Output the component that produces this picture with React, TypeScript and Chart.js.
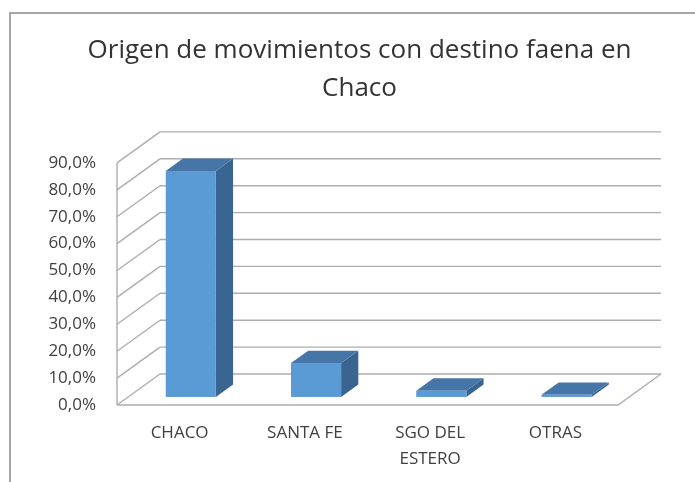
import { useEffect, useRef } from 'react';
import { Chart, registerables } from 'chart.js';

Chart.register(...registerables);

const chartTitle = ['Origen de movimientos con destino faena en', 'Chaco'];
const categories: (string | string[])[] = ['CHACO', 'SANTA FE', ['SGO DEL', 'ESTERO'], 'OTRAS'];
const shares = [0.84, 0.126, 0.023, 0.008];
const yTickLabels = ['0,0%', '10,0%', '20,0%', '30,0%', '40,0%', '50,0%', '60,0%', '70,0%', '80,0%', '90,0%'];
const yMax = 0.9;
const yStep = 0.1;

// 3D projection style
const DX = 43;
const DY = -31;
const D0 = 0.26;
const D1 = 0.66;
const GRID = '#adadad';
const FRONT = '#5b9bd5';
const TOP = '#4676a8';
const SIDE = '#3a6590';

const threeD = {
  id: 'threeD',
  beforeDraw(chart: any) {
    const ctx = chart.ctx;
    ctx.save();
    ctx.fillStyle = '#ffffff';
    ctx.fillRect(0, 0, chart.width, chart.height);
    ctx.strokeStyle = '#a6a6a6';
    ctx.lineWidth = 2;
    ctx.strokeRect(10, 13, chart.width + 20, chart.height + 20);
    ctx.restore();
  },
  beforeDatasetsDraw(chart: any) {
    const ctx = chart.ctx;
    const y = chart.scales.y;
    const a = chart.chartArea;
    ctx.save();
    ctx.strokeStyle = GRID;
    ctx.lineWidth = 1.4;
    y.ticks.forEach((t: any) => {
      const py = y.getPixelForValue(t.value);
      ctx.beginPath();
      ctx.moveTo(a.left + DX, py + DY);
      ctx.lineTo(a.right + DX, py + DY);
      ctx.stroke();
      ctx.beginPath();
      ctx.moveTo(a.left, py);
      ctx.lineTo(a.left + DX, py + DY);
      ctx.stroke();
    });
    ctx.beginPath();
    ctx.moveTo(a.left, y.getPixelForValue(yMax));
    ctx.lineTo(a.left, y.getPixelForValue(0));
    ctx.stroke();
    const b = y.getPixelForValue(0);
    ctx.beginPath();
    ctx.moveTo(a.left, b);
    ctx.lineTo(a.right, b);
    ctx.lineTo(a.right + DX, b + DY);
    ctx.stroke();
    ctx.restore();
  },
  afterDatasetsDraw(chart: any) {
    const ctx = chart.ctx;
    const meta = chart.getDatasetMeta(0);
    ctx.save();
    meta.data.forEach((el: any) => {
      const p = el.getProps(['x', 'y', 'base', 'width'], true);
      const l = p.x - p.width / 2;
      const r = p.x + p.width / 2;
      const fx = DX * D0, fy = DY * D0;
      const bx = DX * D1, by = DY * D1;
      ctx.fillStyle = SIDE;
      ctx.beginPath();
      ctx.moveTo(r + fx, p.y + fy);
      ctx.lineTo(r + bx, p.y + by);
      ctx.lineTo(r + bx, p.base + by);
      ctx.lineTo(r + fx, p.base + fy);
      ctx.closePath();
      ctx.fill();
      ctx.fillStyle = TOP;
      ctx.beginPath();
      ctx.moveTo(l + fx, p.y + fy);
      ctx.lineTo(r + fx, p.y + fy);
      ctx.lineTo(r + bx, p.y + by);
      ctx.lineTo(l + bx, p.y + by);
      ctx.closePath();
      ctx.fill();
      ctx.fillStyle = FRONT;
      ctx.fillRect(l + fx, p.y + fy, r - l, p.base - p.y);
    });
    ctx.restore();
  },
};

export default function App() {
  const ref = useRef<HTMLCanvasElement | null>(null);
  useEffect(() => {
    if (!ref.current) return;
    const chart = new Chart(ref.current, {
      type: 'bar',
      data: {
        labels: categories as any,
        datasets: [
          {
            data: shares,
            backgroundColor: 'rgba(0,0,0,0)',
            borderWidth: 0,
            barPercentage: 0.4,
            categoryPercentage: 1,
          },
        ],
      },
      options: {
        animation: false,
        responsive: false,
        devicePixelRatio: 1,
        layout: { padding: { top: 0, left: 24, right: 0, bottom: 0 } },
        plugins: {
          legend: { display: false },
          tooltip: { enabled: false },
          title: {
            display: true,
            text: chartTitle,
            color: '#333333',
            font: { family: 'Open Sans', size: 26, weight: 'normal', lineHeight: 1.46 },
            padding: { top: 32, bottom: 55 },
          },
        },
        scales: {
          x: {
            grid: { display: false },
            border: { display: false },
            ticks: {
              color: '#404040',
              font: { family: 'Open Sans', size: 17, lineHeight: 1.53 },
              padding: 7,
              maxRotation: 0,
              autoSkip: false,
            },
            afterFit: (s: any) => {
              s.height = 77;
            },
          },
          y: {
            min: 0,
            max: yMax,
            grid: { display: false },
            border: { display: false },
            ticks: {
              stepSize: yStep,
              color: '#404040',
              font: { family: 'Open Sans', size: 17 },
              padding: 13,
              callback: (_v: any, i: number) => yTickLabels[i],
            },
            afterFit: (s: any) => {
              s.width = 93;
            },
          },
          yDepth: {
            position: 'right',
            min: 0,
            max: yMax,
            grid: { display: false },
            border: { display: false },
            ticks: { display: false },
            afterFit: (s: any) => {
              s.width = 77;
            },
          },
        },
      },
      plugins: [threeD],
    });
    return () => chart.destroy();
  }, []);
  return (
    <div style={{ position: 'fixed', left: 0, top: 0, width: 695, height: 482 }}>
      <canvas ref={ref} width={695} height={482} style={{ display: 'block' }} />
    </div>
  );
}
